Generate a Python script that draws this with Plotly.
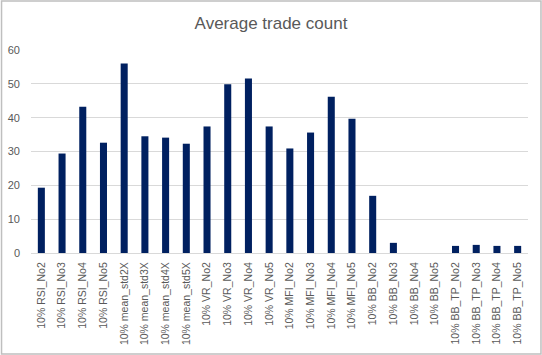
import plotly.graph_objects as go

categories = [
    "10% RSI_No2", "10% RSI_No3", "10% RSI_No4", "10% RSI_No5",
    "10% mean_std2X", "10% mean_std3X", "10% mean_std4X", "10% mean_std5X",
    "10% VR_No2", "10% VR_No3", "10% VR_No4", "10% VR_No5",
    "10% MFI_No2", "10% MFI_No3", "10% MFI_No4", "10% MFI_No5",
    "10% BB_No2", "10% BB_No3", "10% BB_No4", "10% BB_No5",
    "10% BB_TP_No2", "10% BB_TP_No3", "10% BB_TP_No4", "10% BB_TP_No5",
]
avg_trade_count = [
    19.3, 29.4, 43.2, 32.6,
    56.0, 34.5, 34.1, 32.3,
    37.4, 49.9, 51.6, 37.4,
    30.9, 35.6, 46.2, 39.7,
    16.9, 3.0, 0, 0,
    2.1, 2.4, 2.1, 2.1,
]
y_ticks = [0, 10, 20, 30, 40, 50, 60]

W, H = 542, 355
ML, MR, MT, MB = 30.5, 14, 50, 102
PW, PH = W - ML - MR, H - MT - MB
font_family = "Liberation Sans, Arial, sans-serif"
grey_text = "#595959"

fig = go.Figure(
    go.Bar(
        x=categories,
        y=avg_trade_count,
        marker=dict(color="#002060", line=dict(width=0)),
    )
)

fig.update_layout(
    width=W,
    height=H,
    paper_bgcolor="white",
    plot_bgcolor="white",
    bargap=0.66,
    showlegend=False,
    margin=dict(l=ML, r=MR, t=MT, b=MB, autoexpand=False),
    title=dict(
        text="Average trade count",
        x=0.5,
        xanchor="center",
        y=1 - 23 / H,
        yanchor="middle",
        font=dict(family=font_family, size=17, color=grey_text),
    ),
    font=dict(family=font_family, color=grey_text),
    xaxis=dict(
        tickangle=-90,
        tickfont=dict(size=10.5, color=grey_text),
        showgrid=False,
        showline=True,
        linecolor="#D9D9D9",
        linewidth=1,
        ticks="",
        ticklen=0,
        ticklabelstandoff=4,
        automargin=False,
        fixedrange=True,
    ),
    yaxis=dict(
        range=[0, 60],
        tickvals=y_ticks,
        tickfont=dict(size=11, color=grey_text),
        showgrid=True,
        gridcolor="#D9D9D9",
        gridwidth=1,
        zeroline=False,
        showline=False,
        ticks="",
        ticklabelstandoff=10,
        automargin=False,
        fixedrange=True,
    ),
    shapes=[
        dict(
            type="rect", xref="paper", yref="paper",
            x0=-(ML - 1) / PW, x1=1 + (MR - 1) / PW,
            y0=-(MB - 1) / PH, y1=1 + (MT - 1) / PH,
            line=dict(color="#BFBFBF", width=1.5),
            fillcolor="rgba(0,0,0,0)", layer="below",
        )
    ],
)

fig.write_html(
    "out.html",
    config={"displayModeBar": False},
    post_script="document.body.style.margin='0';document.body.style.overflow='hidden';",
)
